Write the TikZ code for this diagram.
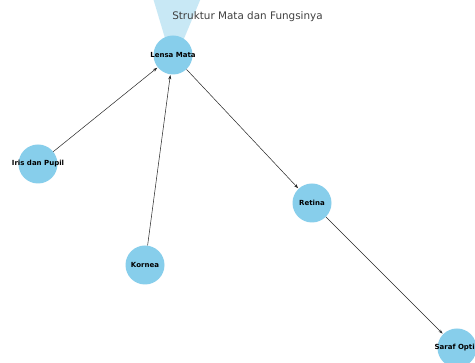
\documentclass[tikz,border=0pt]{standalone}
\usepackage{fontspec}
\setmainfont{DejaVu Sans}
\usetikzlibrary{arrows.meta}
\definecolor{skyblue}{HTML}{87CEEB}
\tikzset{
  part/.style={circle,fill=skyblue,minimum size=39pt,inner sep=0pt},
  partname/.style={inner sep=0pt,font=\fontsize{7}{8}\selectfont\bfseries},
  link/.style={-{Stealth[length=4.5pt,width=3pt]},black!85,line width=0.5pt,shorten >=0.5pt}
}
\begin{document}
\begin{tikzpicture}[x=1pt,y=-1pt]
  \clip (0,0) rectangle (475,363);
  \fill[white] (0,0) rectangle (475,363);
  \coordinate (loopl) at (153,-2);
  \coordinate (loopr) at (201,-2);
  \node (lens) at (173,55)[part]{};
  \node (iris) at (38,164)[part]{};
  \node (kornea) at (145,265)[part]{};
  \node (retina) at (312,203)[part]{};
  \node (saraf) at (457,348)[part]{};
  % self loop of the lens
  \fill[skyblue,opacity=0.45] (loopl) -- ([yshift=-10pt]lens.center) -- (loopr) -- cycle;
  \node (lenstxt) at (lens)[partname]{Lensa Mata};
  \node (iristxt) at (iris)[partname]{Iris dan Pupil};
  \node (korneatxt) at (kornea)[partname]{Kornea};
  \node (retinatxt) at (retina)[partname]{Retina};
  \node (saraftxt) at (saraf)[partname]{Saraf Optik};
  \node (title) at (247.5,17)[text=black!75,font=\fontsize{10.4}{12}\selectfont]{Struktur Mata dan Fungsinya};
  \draw[link] (iris) -- (lens);
  \draw[link] (kornea) -- (lens);
  \draw[link] (lens) -- (retina);
  \draw[link] (retina) -- (saraf);
\end{tikzpicture}
\end{document}
